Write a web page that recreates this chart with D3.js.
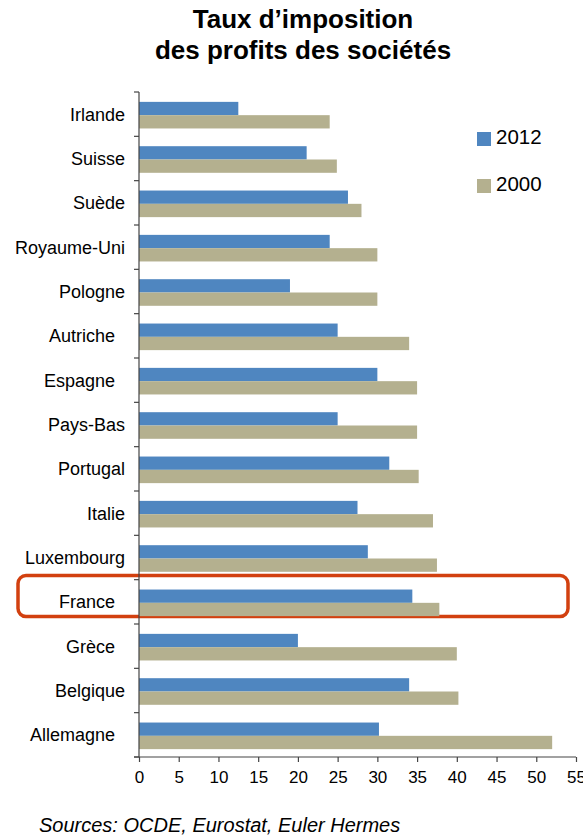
<!DOCTYPE html>
<html>
<head>
<meta charset="utf-8">
<script src="https://cdn.jsdelivr.net/npm/d3@7"></script>
<style>
  body { margin: 0; background: #fff; }
  text { font-family: "Liberation Sans", Arial, sans-serif; fill: #000; }
</style>
</head>
<body>
<script>
// categories as written in the source sheet (trailing spaces kept)
const pays = ['Irlande', 'Suisse', 'Suède', 'Royaume-Uni', 'Pologne', 'Autriche  ', 'Espagne  ',
  'Pays-Bas', 'Portugal', 'Italie', 'Luxembourg', 'France  ', 'Grèce  ', 'Belgique', 'Allemagne  '];
const taux2012 = [12.5, 21.1, 26.3, 24, 19, 25, 30, 25, 31.5, 27.5, 28.8, 34.4, 20, 34, 30.2];
const taux2000 = [24, 24.9, 28, 30, 30, 34, 35, 35, 35.2, 37, 37.5, 37.8, 40, 40.2, 52];
const series = ['2012', '2000'];
const xTicks = [0, 5, 10, 15, 20, 25, 30, 35, 40, 45, 50, 55];

const W = 583, H = 837;
const colors = { '2012': '#4f86c0', '2000': '#b4b08f' };

const svg = d3.select('body').append('svg')
  .attr('width', W).attr('height', H);

// title
const title = svg.append('text')
  .attr('text-anchor', 'middle')
  .style('font-weight', 'bold')
  .style('font-size', '26px');
title.append('tspan').attr('x', 303).attr('y', 28).text('Taux d\u2019imposition');
title.append('tspan').attr('x', 303).attr('y', 59).text('des profits des sociétés');

const x = d3.scaleLinear().domain([0, 55]).range([139, 576]);
const y = d3.scaleBand().domain(pays).range([92, 757])
  .paddingInner(0.4).paddingOuter(0.2);
const yIn = d3.scaleBand().domain(series).range([0, y.bandwidth()]);

const rows = pays.map((p, i) => ({ pays: p, '2012': taux2012[i], '2000': taux2000[i] }));

// highlight box around France (drawn first so bars sit above)
svg.append('rect')
  .attr('x', 18).attr('y', y('France  ') - 13)
  .attr('width', 550).attr('height', 41)
  .attr('rx', 8).attr('ry', 8)
  .attr('fill', 'none')
  .attr('stroke', '#d2400f')
  .attr('stroke-width', 3.5);

const g = svg.append('g');
g.selectAll('g.row')
  .data(rows)
  .join('g')
  .attr('class', 'row')
  .attr('transform', d => `translate(0,${y(d.pays) + 1})`)
  .selectAll('rect')
  .data(d => series.map(s => ({ s, v: d[s] })))
  .join('rect')
  .attr('x', x(0))
  .attr('y', d => yIn(d.s))
  .attr('width', d => x(d.v) - x(0))
  .attr('height', yIn.bandwidth())
  .attr('fill', d => colors[d.s]);

// left axis: ticks at category boundaries
const yAxis = svg.append('g');
yAxis.append('line')
  .attr('x1', x(0)).attr('x2', x(0))
  .attr('y1', y.range()[0]).attr('y2', y.range()[1])
  .attr('stroke', '#444').attr('stroke-width', 1.2);
const bounds = d3.range(pays.length + 1).map(i => y.range()[0] + i * y.step());
yAxis.selectAll('line.tk')
  .data(bounds)
  .join('line')
  .attr('class', 'tk')
  .attr('x1', x(0) - 5).attr('x2', x(0))
  .attr('y1', d => d).attr('y2', d => d)
  .attr('stroke', '#444').attr('stroke-width', 1.2);

yAxis.selectAll('text')
  .data(pays)
  .join('text')
  .attr('x', 125)
  .attr('y', d => y(d) + y.bandwidth() / 2)
  .attr('dy', '0.36em')
  .attr('text-anchor', 'end')
  .style('white-space', 'pre')
  .style('font-size', '18px')
  .text(d => d);

// bottom axis
const xAxis = svg.append('g')
  .attr('transform', `translate(0,${y.range()[1]})`)
  .call(d3.axisBottom(x).tickValues(xTicks).tickSize(5).tickSizeOuter(0).tickPadding(9));
xAxis.select('.domain').attr('stroke', '#444').attr('stroke-width', 1.2)
  .attr('d', `M${x(0) - 5},0H${x(55)}`);
xAxis.selectAll('.tick line').attr('stroke', '#444').attr('stroke-width', 1.2);
xAxis.selectAll('.tick text')
  .style('font-family', '"Liberation Sans", Arial, sans-serif')
  .style('font-size', '17px')
  .attr('fill', '#000');

// legend
const leg = svg.append('g')
  .selectAll('g')
  .data(series)
  .join('g')
  .attr('transform', (d, i) => `translate(477,${132 + i * 47})`);
leg.append('rect')
  .attr('width', 14).attr('height', 14)
  .attr('fill', d => colors[d]);
leg.append('text')
  .attr('x', 19).attr('y', 12)
  .style('font-size', '20.5px')
  .text(d => d);

// source
svg.append('text')
  .attr('x', 39).attr('y', 832)
  .style('font-style', 'italic')
  .style('font-size', '20px')
  .text('Sources: OCDE, Eurostat, Euler Hermes');
</script>
</body>
</html>
